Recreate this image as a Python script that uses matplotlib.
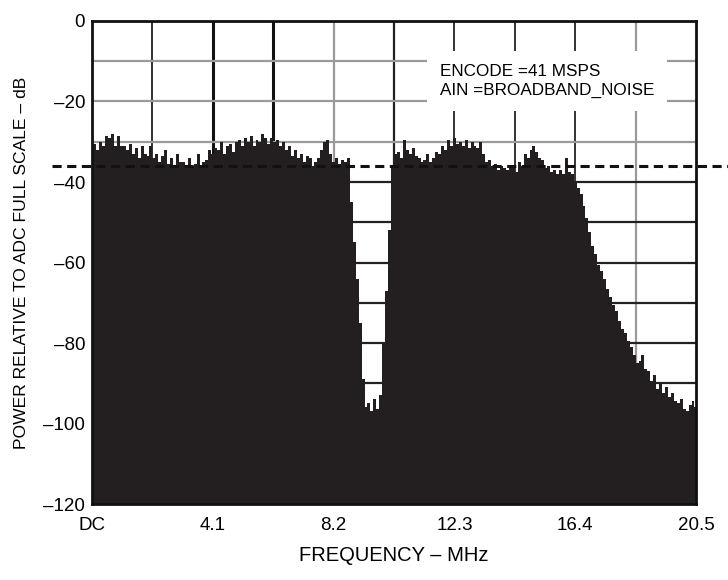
import numpy as np
import matplotlib
matplotlib.use("Agg")
import matplotlib.pyplot as plt

plt.rcParams['font.family'] = ['Liberation Sans', 'DejaVu Sans']

# spectrum envelope, dB relative to full scale, one value per 0.1 MHz bin (0 .. 20.5 MHz)
power_db = [
    -31, -30.5, -32, -30, -31, -28.5, -29, -28, -31, -28.5, -31,
    -31, -32, -30.5, -33, -31.5, -34, -31, -33, -33.5, -31,
    -34, -33, -35, -33.5, -32, -35.5, -34, -36, -33, -35,
    -35, -36.5, -34, -36, -35.5, -33, -36, -35, -34.5, -32,
    -33, -31.5, -32, -30, -33, -31, -30.5, -32.5, -30, -29.5,
    -31, -29, -30, -28.5, -31, -29.5, -30, -28, -29, -30.5,
    -29, -30, -29.5, -31, -30, -32, -31, -33.5, -32, -34,
    -33, -35, -33.5, -34, -36, -35, -34, -32, -30, -29.5,
    -33, -35, -34, -35.5, -34.5, -35, -34, -45, -55, -64,
    -75, -89, -96, -95, -97, -94, -96.5, -93, -80, -67,
    -52, -36, -33, -32.5, -34, -29.5, -32, -33, -31.5, -33.5,
    -34, -35, -34.5, -33, -35, -34, -32.5, -33, -31, -32,
    -29.5, -31, -29, -30.5, -30, -31, -29.5, -31.5, -30, -31,
    -31.5, -30, -33, -35, -34.5, -36, -35.5, -37, -36, -36.5,
    -37, -36, -36.5, -37.5, -35, -36, -33, -34, -32, -31,
    -32.5, -34, -34.5, -36.5, -36, -37.5, -37, -38, -37, -38,
    -34, -37.5, -38, -40, -41.5, -43, -46, -49, -52.5, -56,
    -58, -60.5, -62, -64, -66.5, -68.5, -70.5, -72, -74.5, -76.5,
    -77.5, -79.5, -81, -83, -85, -84.5, -83, -86.5, -87, -89.5,
    -88, -91.5, -90, -92.5, -91, -93.5, -92.5, -94.5, -95, -94,
    -96.5, -97, -95.5, -94.5, -96,
]
freq_mhz = np.round(np.arange(len(power_db)) * 0.1, 2)

xticks = [0, 4.1, 8.2, 12.3, 16.4, 20.5]
xticklabels = ['DC', '4.1', '8.2', '12.3', '16.4', '20.5']
yticks = [0, -20, -40, -60, -80, -100, -120]
yticklabels = ['0', '–20', '–40', '–60', '–80', '–100', '–120']
ref_level = -36  # dashed reference line

fig = plt.figure(figsize=(7.28, 5.8), dpi=100)
ax = fig.add_axes([0.1264, 0.131, 0.8296, 0.8328])
ax.set_xlim(0, 20.5)
ax.set_ylim(-120, 0)

# grid, drawn by hand to mimic the uneven line weights of the scan
vgrid = [(2.05, '#222222', 1.3), (4.1, '#111111', 2.2), (6.15, '#111111', 2.2),
         (8.2, '#9a9a9a', 1.6), (10.25, '#222222', 1.6), (12.3, '#333333', 1.4),
         (14.35, '#333333', 1.4), (16.4, '#333333', 1.4), (18.45, '#9a9a9a', 1.6)]
for x, c, lw in vgrid:
    ax.axvline(x, color=c, lw=lw, zorder=1)
for y in range(-10, -120, -10):
    c = '#9a9a9a' if y > -40 else '#222222'
    ax.axhline(y, color=c, lw=1.6, zorder=1)

ax.fill_between(freq_mhz, power_db, -120, step='mid', color='#231f20', lw=0, zorder=2)

ax.plot([-1.36, 22], [ref_level, ref_level], color='#111111', lw=2.2,
        dashes=(3, 1.8), clip_on=False, zorder=4)

ax.text(11.81, -14.9, 'ENCODE =41 MSPS\nAIN =BROADBAND_NOISE', fontsize=12.3,
        va='center', ha='left', linespacing=1.4, zorder=3,
        bbox=dict(fc='white', ec='none', pad=9))

ax.set_xticks(xticks)
ax.set_xticklabels(xticklabels)
ax.set_yticks(yticks)
ax.set_yticklabels(yticklabels)
ax.tick_params(length=0, labelsize=13.5)
ax.tick_params(axis='x', pad=9)
ax.tick_params(axis='y', pad=5)
for s in ax.spines.values():
    s.set_linewidth(2)
    s.set_color('#111111')
    s.set_zorder(5)

ax.set_xlabel('FREQUENCY – MHz', fontsize=14.5, labelpad=9)
ax.set_ylabel('POWER RELATIVE TO ADC FULL SCALE – dB', fontsize=12.6, labelpad=10)

fig.savefig('out.png', dpi=100)
